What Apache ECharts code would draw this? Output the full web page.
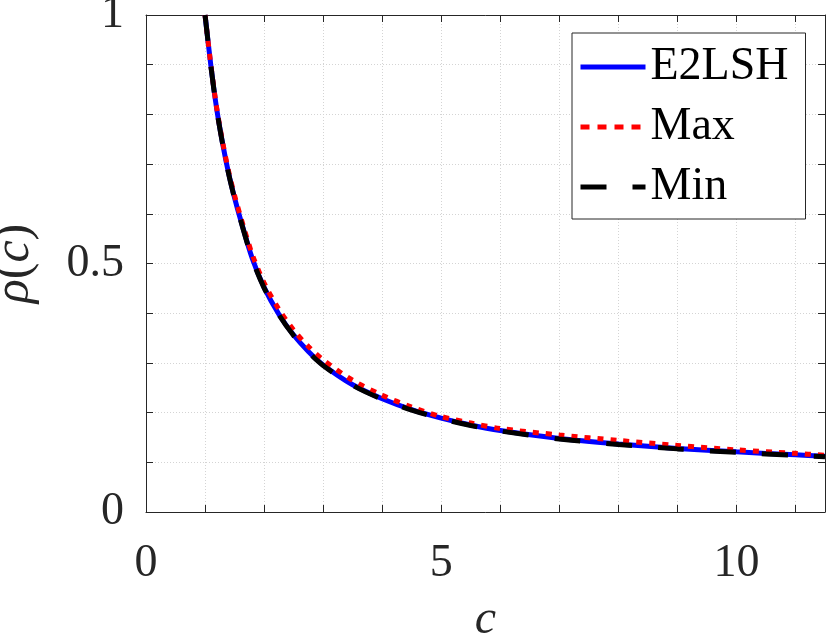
<!DOCTYPE html>
<html>
<head>
<meta charset="utf-8">
<script src="https://cdn.jsdelivr.net/npm/echarts@6/dist/echarts.min.js"></script>
<style>
html,body{margin:0;padding:0;background:#fff;}
#chart{width:830px;height:636px;}
</style>
</head>
<body>
<div id="chart"></div>
<script>
// ---- data ----
var cValues   = [1.0, 1.1, 1.2, 1.3, 1.4, 1.5, 1.6, 1.8, 2.0, 2.25, 2.5, 2.75, 3.0, 3.5, 4.0, 4.5, 5.0, 5.5, 6.0, 7.0, 8.0, 9.0, 10.0, 11.0, 11.5];
var e2lshRho  = [1.0, 0.897, 0.809, 0.740, 0.681, 0.632, 0.589, 0.510, 0.452, 0.398, 0.356, 0.323, 0.296, 0.256, 0.228, 0.206, 0.189, 0.175, 0.164, 0.148, 0.137, 0.128, 0.121, 0.115, 0.112];
var maxRho    = [1.0, 0.898, 0.811, 0.743, 0.685, 0.637, 0.595, 0.518, 0.461, 0.408, 0.366, 0.333, 0.306, 0.265, 0.235, 0.211, 0.192, 0.179, 0.168, 0.155, 0.144, 0.134, 0.125, 0.118, 0.114];
var minRho    = [1.0, 0.896, 0.808, 0.739, 0.680, 0.631, 0.588, 0.509, 0.451, 0.397, 0.355, 0.322, 0.295, 0.255, 0.227, 0.205, 0.188, 0.174, 0.163, 0.147, 0.136, 0.127, 0.120, 0.114, 0.111];
var xTickLabels = [0, 5, 10];
var yTickLabels = [0, 0.5, 1];
var seriesNames = ['E2LSH', 'Max', 'Min'];

function pairs(xs, ys){ return xs.map(function(x,i){ return [x, ys[i]]; }); }

var FONT = '"Liberation Serif", "Times New Roman", serif';
var AX = '#262626';

var chart = echarts.init(document.getElementById('chart'), null, {renderer:'canvas'});

var gridLine = {show:true, lineStyle:{color:'#d4d4d4', width:1, type:[1,2]}};

var option = {
  animation:false,
  backgroundColor:'#fff',
  textStyle:{fontFamily:FONT},
  grid:{left:146, right:5, top:15, bottom:124, containLabel:false, outerBoundsMode:'none'},
  legend:{
    orient:'vertical',
    left:572, top:33,
    data:[
      {name:seriesNames[0]},
      {name:seriesNames[1], lineStyle:{type:[9,8]}},
      {name:seriesNames[2]}
    ],
    itemWidth:65, itemHeight:20, itemGap:14,
    padding:[11,17,9,6],
    borderColor:AX, borderWidth:1, backgroundColor:'#fff',
    itemStyle:{opacity:0, borderWidth:0},
    lineStyle:{width:5},
    textStyle:{fontFamily:FONT, fontSize:46, color:'#000', lineHeight:46}
  },
  xAxis:[{
    type:'value', min:0, max:11.5, interval:1,
    name:'c', nameLocation:'middle', nameGap:84,
    nameTextStyle:{fontFamily:FONT, fontSize:48, fontStyle:'italic', color:AX},
    axisLine:{show:true, onZero:false, lineStyle:{color:AX, width:1}},
    axisTick:{show:true, inside:true, length:7, lineStyle:{color:AX}},
    axisLabel:{show:true, margin:29, fontFamily:FONT, fontSize:46, color:AX,
      formatter:function(v){ return xTickLabels.indexOf(Math.round(v*1000)/1000) >= 0 ? String(v) : ''; }},
    splitLine:gridLine
  },{
    type:'value', min:0, max:11.5, interval:1, position:'top',
    axisLine:{show:true, onZero:false, lineStyle:{color:AX, width:1}},
    axisTick:{show:true, inside:true, length:7, lineStyle:{color:AX}},
    axisLabel:{show:false}, splitLine:{show:false}
  }],
  yAxis:[{
    type:'value', min:0, max:1, interval:0.1,
    name:'{i|ρ}({i|c})', nameLocation:'middle', nameGap:106, nameRotate:90,
    nameTextStyle:{fontFamily:FONT, fontSize:50, color:AX,
      rich:{i:{fontFamily:FONT, fontSize:50, fontStyle:'italic', color:AX}}},
    axisLine:{show:true, onZero:false, lineStyle:{color:AX, width:1}},
    axisTick:{show:true, inside:true, length:7, lineStyle:{color:AX}},
    axisLabel:{show:true, margin:22, padding:[8,0,0,0], fontFamily:FONT, fontSize:46, color:AX,
      formatter:function(v){ var r = Math.round(v*1000)/1000; return yTickLabels.indexOf(r) >= 0 ? String(r) : ''; }},
    splitLine:gridLine
  },{
    type:'value', min:0, max:1, interval:0.1, position:'right',
    axisLine:{show:true, onZero:false, lineStyle:{color:AX, width:1}},
    axisTick:{show:true, inside:true, length:7, lineStyle:{color:AX}},
    axisLabel:{show:false}, splitLine:{show:false}
  }],
  series:[
    {name:seriesNames[0], type:'line', data:pairs(cValues, e2lshRho), showSymbol:false, symbol:'none',
     smooth:0.3, lineStyle:{color:'#0000ff', width:5, type:'solid'}, itemStyle:{color:'#0000ff'}, z:2},
    {name:seriesNames[1], type:'line', data:pairs(cValues, maxRho), showSymbol:false, symbol:'none',
     smooth:0.3, lineStyle:{color:'#ff0000', width:5, type:[6,7]}, itemStyle:{color:'#ff0000'}, z:3},
    {name:seriesNames[2], type:'line', data:pairs(cValues, minRho), showSymbol:false, symbol:'none',
     smooth:0.3, lineStyle:{color:'#000000', width:5, type:[26,26]}, itemStyle:{color:'#000000'}, z:4}
  ]
};
chart.setOption(option);
</script>
</body>
</html>
